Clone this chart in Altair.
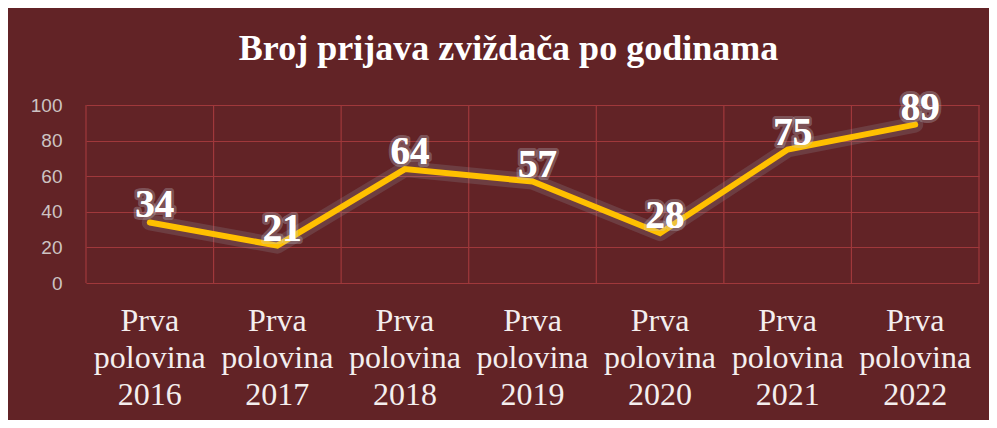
import altair as alt
import pandas as pd

categories = ["Prva polovina 2016", "Prva polovina 2017", "Prva polovina 2018",
              "Prva polovina 2019", "Prva polovina 2020", "Prva polovina 2021",
              "Prva polovina 2022"]
values = [34, 21, 64, 57, 28, 75, 89]
y_ticks = [0, 20, 40, 60, 80, 100]
title_text = "Broj prijava zviždača po godinama"

df = pd.DataFrame({"period": categories, "count": values})

x_enc = alt.X("period:N", sort=categories, scale=alt.Scale(paddingInner=0, paddingOuter=0),
              axis=alt.Axis(title=None, labelAngle=0, labelExpr="split(datum.label, ' ')",
                            labelAlign="center",
                            labelFont="Liberation Serif", labelFontSize=32, labelColor="#f4eeee",
                            labelLineHeight=37, labelPadding=22, labelBaseline="top",
                            ticks=False, domain=False, grid=False))
y_enc = alt.Y("count:Q", scale=alt.Scale(domain=[0, 100], nice=False),
              axis=alt.Axis(title=None, values=y_ticks, labelFont="Liberation Sans",
                            labelFontSize=19, labelColor="#cdc3c3", labelPadding=24,
                            ticks=False, domain=False, grid=True, gridColor="#a0383b",
                            gridWidth=1.2))

base = alt.Chart(df).encode(x=x_enc, y=y_enc)

# vertical grid at band boundaries
vgrid = alt.Chart(df).mark_rule(color="#a0383b", strokeWidth=1.2).encode(
    x=alt.X("period:N", sort=categories, bandPosition=0),
    y=alt.value(0), y2=alt.value(178))
vgrid_end = alt.Chart(df).mark_rule(color="#a0383b", strokeWidth=1.2).transform_filter(
    alt.datum.period == categories[-1]).encode(
    x=alt.X("period:N", sort=categories, bandPosition=1),
    y=alt.value(0), y2=alt.value(178))

glow = base.mark_line(color="#9aa6b0", strokeWidth=16, opacity=0.2, strokeCap="round", strokeJoin="round")
line = base.mark_line(color="#FFC000", strokeWidth=6, strokeCap="round", strokeJoin="miter")

label_glow = base.mark_text(font="Liberation Serif", fontWeight="bold", fontSize=39,
                            baseline="alphabetic", dx=5, dy=-5, color="#ffffff",
                            stroke="#c3cdd6", strokeWidth=6, strokeOpacity=0.3,
                            strokeJoin="round").encode(text="count:Q")
labels = base.mark_text(font="Liberation Serif", fontWeight="bold", fontSize=39,
                        baseline="alphabetic", dx=5, dy=-5, color="#ffffff").encode(text="count:Q")

chart = alt.layer(vgrid, vgrid_end, glow, line, label_glow, labels).properties(
    width=893, height=178,
    title=alt.TitleParams(title_text, font="Liberation Serif", fontWeight="bold", fontSize=36,
                          color="#ffffff", anchor="middle", baseline="alphabetic",
                          offset=42, dx=-24, dy=49),
    background="#622326",
    padding={"left": 78, "top": 97, "right": 10, "bottom": 137},
    autosize=alt.AutoSizeParams(type="none"),
).configure_view(stroke=None)

chart.save("out.html", embed_options={"renderer": "svg", "actions": False})
